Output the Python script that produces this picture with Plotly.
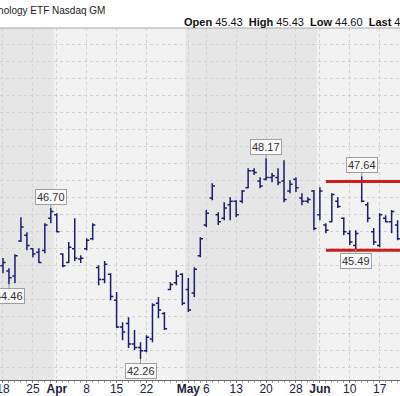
import plotly.graph_objects as go

# ---------------- data ----------------
dates = [
    "2013-03-18", "2013-03-19", "2013-03-20", "2013-03-21", "2013-03-22",
    "2013-03-25", "2013-03-26", "2013-03-27", "2013-03-28",
    "2013-04-01", "2013-04-02", "2013-04-03", "2013-04-04", "2013-04-05",
    "2013-04-08", "2013-04-09", "2013-04-10", "2013-04-11", "2013-04-12",
    "2013-04-15", "2013-04-16", "2013-04-17", "2013-04-18", "2013-04-19",
    "2013-04-22", "2013-04-23", "2013-04-24", "2013-04-25", "2013-04-26",
    "2013-04-29", "2013-04-30",
    "2013-05-01", "2013-05-02", "2013-05-03",
    "2013-05-06", "2013-05-07", "2013-05-08", "2013-05-09", "2013-05-10",
    "2013-05-13", "2013-05-14", "2013-05-15", "2013-05-16", "2013-05-17",
    "2013-05-20", "2013-05-21", "2013-05-22", "2013-05-23", "2013-05-24",
    "2013-05-28", "2013-05-29", "2013-05-30", "2013-05-31",
    "2013-06-03", "2013-06-04", "2013-06-05", "2013-06-06", "2013-06-07",
    "2013-06-10", "2013-06-11", "2013-06-12", "2013-06-13", "2013-06-14",
    "2013-06-17", "2013-06-18", "2013-06-19", "2013-06-20",
]
opens = [
    45.00, 44.85, 44.70, 45.73, 45.90,
    45.50, 45.40, 45.45, 46.40,
    46.50, 45.35, 45.10, 45.50, 45.20,
    45.50, 45.80, 44.95, 44.60, 44.75,
    43.99, 43.20, 43.30, 42.70, 42.60,
    42.50, 42.85, 43.90, 43.60, 44.30,
    44.50, 44.75,
    44.30, 44.20, 45.30,
    46.20, 47.00, 46.50, 46.40, 46.80,
    46.90, 46.90, 47.30, 47.80, 47.50,
    47.55, 47.60, 47.60, 47.50, 47.20,
    47.55, 47.00, 46.90, 47.20,
    46.50, 46.20, 46.30, 46.90, 46.40,
    45.95, 45.60, 47.50, 46.80, 46.00,
    45.60, 46.40, 46.30, 46.20,
]
highs = [
    45.23, 44.93, 45.34, 46.43, 45.99,
    45.52, 45.52, 46.25, 46.70,
    46.55, 45.37, 45.70, 46.40, 45.31,
    45.81, 46.25, 45.02, 45.14, 44.78,
    44.23, 43.34, 43.49, 43.11, 42.75,
    42.96, 43.90, 44.08, 43.64, 44.52,
    44.87, 44.78,
    44.64, 44.96, 45.84,
    46.64, 47.43, 46.58, 46.87, 47.02,
    46.93, 47.23, 47.87, 47.87, 47.61,
    48.17, 47.73, 47.87, 48.11, 47.52,
    47.61, 47.14, 47.02, 47.23,
    47.31, 46.25, 47.14, 47.02, 46.43,
    46.05, 46.05, 47.64, 46.87, 46.11,
    46.55, 46.49, 46.64, 46.34,
]
lows = [
    44.78, 44.46, 44.49, 45.70, 45.46,
    45.25, 45.08, 45.37, 46.25,
    45.99, 44.96, 45.08, 45.14, 45.08,
    45.46, 45.75, 44.43, 44.49, 43.99,
    43.17, 42.81, 42.58, 42.52, 42.26,
    42.46, 42.75, 43.46, 43.11, 44.28,
    44.43, 43.84,
    43.64, 44.08, 45.25,
    46.14, 46.93, 46.20, 46.34, 46.34,
    46.43, 46.84, 47.28, 47.67, 47.28,
    47.52, 47.46, 47.37, 46.87, 47.14,
    47.17, 46.78, 46.84, 46.05,
    46.34, 45.96, 46.28, 46.70, 45.90,
    45.61, 45.49, 46.87, 46.28, 45.61,
    45.55, 46.28, 45.96, 45.75,
]
closes = [
    45.10, 44.65, 45.30, 46.14, 45.60,
    45.35, 45.10, 46.20, 46.60,
    46.00, 45.00, 45.55, 45.22, 45.22,
    45.75, 46.20, 44.60, 45.05, 44.10,
    43.20, 43.05, 42.70, 42.60, 42.50,
    42.90, 43.85, 43.70, 43.15, 44.45,
    44.70, 43.90,
    43.70, 44.90, 45.80,
    46.55, 47.35, 46.30, 46.70, 46.90,
    46.50, 47.20, 47.80, 47.75, 47.35,
    47.60, 47.65, 47.45, 46.95, 47.40,
    47.30, 46.90, 46.95, 46.10,
    47.20, 46.05, 47.10, 46.75, 46.00,
    45.70, 45.95, 46.90, 46.40, 45.70,
    46.50, 46.30, 46.60, 45.80,
]

tick_dates = ["2013-03-18", "2013-03-25", "2013-04-01", "2013-04-08", "2013-04-15",
              "2013-04-22", "2013-05-01", "2013-05-06", "2013-05-13", "2013-05-20",
              "2013-05-28", "2013-06-03", "2013-06-10", "2013-06-17"]
tick_labels = ["18", "25", "<b>Apr</b>", "8", "15", "22", "<b>May</b>", "6", "13",
               "20", "28", "<b>Jun</b>", "10", "17"]

callout_dates = ["2013-03-19", "2013-03-28", "2013-04-19", "2013-05-20", "2013-06-12", "2013-06-11"]
callout_kinds = ["low", "high", "low", "high", "high", "low"]

resistance = 47.48
support = 45.46
range_start = "2013-06-04"

title_name = "Technology ETF"
exchange = "Nasdaq GM"
quote_labels = ["Open", "High", "Low", "Last"]
quote_values = ["45.43", "45.43", "44.60", "44.87"]

# ---------------- figure ----------------
FONT = "Liberation Sans, Arial, sans-serif"
BAR = "#1c1c72"

xs = list(range(len(dates)))
pos = {d: i for i, d in enumerate(dates)}

fig = go.Figure()
fig.add_trace(go.Ohlc(
    x=xs, open=opens, high=highs, low=lows, close=closes,
    increasing=dict(line=dict(color=BAR, width=1.5)),
    decreasing=dict(line=dict(color=BAR, width=1.5)),
    tickwidth=0.45, hoverinfo="skip", showlegend=False,
))

# month shading (alternate months darker)
month_starts = []
for i, d in enumerate(dates):
    if i == 0 or d[:7] != dates[i - 1][:7]:
        month_starts.append(i)
shapes = []
for k, s in enumerate(month_starts):
    e = month_starts[k + 1] if k + 1 < len(month_starts) else len(dates) + 5
    if k % 2 == 0:
        shapes.append(dict(type="rect", xref="x", yref="paper", x0=s - 0.5, x1=e - 0.5,
                           y0=0, y1=1, fillcolor="#e6e6e6", line=dict(width=0), layer="below"))
# top border
shapes.append(dict(type="line", xref="paper", yref="paper", x0=0, x1=1, y0=1, y1=1,
                   line=dict(color="#a8a8a8", width=1)))
# trading range lines
for lvl in (resistance, support):
    shapes.append(dict(type="line", xref="x", yref="y", x0=pos[range_start], x1=len(dates) + 5,
                       y0=lvl, y1=lvl, line=dict(color="#cc1e1e", width=3)))

annotations = []
for d, kind in zip(callout_dates, callout_kinds):
    i = pos[d]
    val = highs[i] if kind == "high" else lows[i]
    annotations.append(dict(
        x=i, y=val, xref="x", yref="y", text=f"{val:.2f}",
        showarrow=True, arrowhead=0, arrowwidth=1, arrowcolor="#999999",
        ax=0, ay=-11 if kind == "high" else 12,
        font=dict(family=FONT, size=11, color="#333333"),
        bgcolor="#f9f9f9", bordercolor="#a0a0a0", borderwidth=1, borderpad=1,
    ))

annotations.append(dict(
    xref="paper", yref="paper", x=107 / 400, y=(352 + 18) / 352,
    xanchor="right", yanchor="middle", showarrow=False,
    text=f"{title_name} <span style='font-size:10px'>{exchange}</span>",
    font=dict(family=FONT, size=10, color="#222222"),
))
quote = "  ".join(f"<b>{l}</b> {v}" for l, v in zip(quote_labels, quote_values))
annotations.append(dict(
    xref="paper", yref="paper", x=182 / 400, y=(352 + 6) / 352,
    xanchor="left", yanchor="middle", showarrow=False,
    text=quote, font=dict(family=FONT, size=11, color="#111111"),
))

fig.update_layout(
    width=400, height=396,
    margin=dict(l=0, r=0, t=28, b=16, autoexpand=False),
    paper_bgcolor="white", plot_bgcolor="#f2f2f2",
    shapes=shapes, annotations=annotations,
    xaxis=dict(
        range=[-0.5, 66.4], tickmode="array",
        tickvals=[pos[d] for d in tick_dates], ticktext=tick_labels,
        ticklabeloverflow="allow", automargin=False, ticklabelstandoff=-4,
        showgrid=True, gridcolor="#d2d2d2", griddash="dot", gridwidth=1,
        showline=True, linecolor="#666666", linewidth=1,
        ticks="outside", ticklen=2, tickcolor="#888888",
        tickfont=dict(family=FONT, size=12, color="#1c2340"),
        zeroline=False, rangeslider=dict(visible=False), fixedrange=True,
        minor=dict(tickmode="linear", tick0=0, dtick=1, ticks="outside",
                   ticklen=2, tickcolor="#aaaaaa", showgrid=False),
    ),
    yaxis=dict(
        range=[41.64, 52.0], tick0=0, dtick=0.5, showticklabels=False,
        showgrid=True, gridcolor="#d2d2d2", griddash="dot", gridwidth=1,
        zeroline=False, ticks="", fixedrange=True, automargin=False,
    ),
)

fig.write_html("out.html", config={"displayModeBar": False},
               post_script="document.body.style.margin='0';")
